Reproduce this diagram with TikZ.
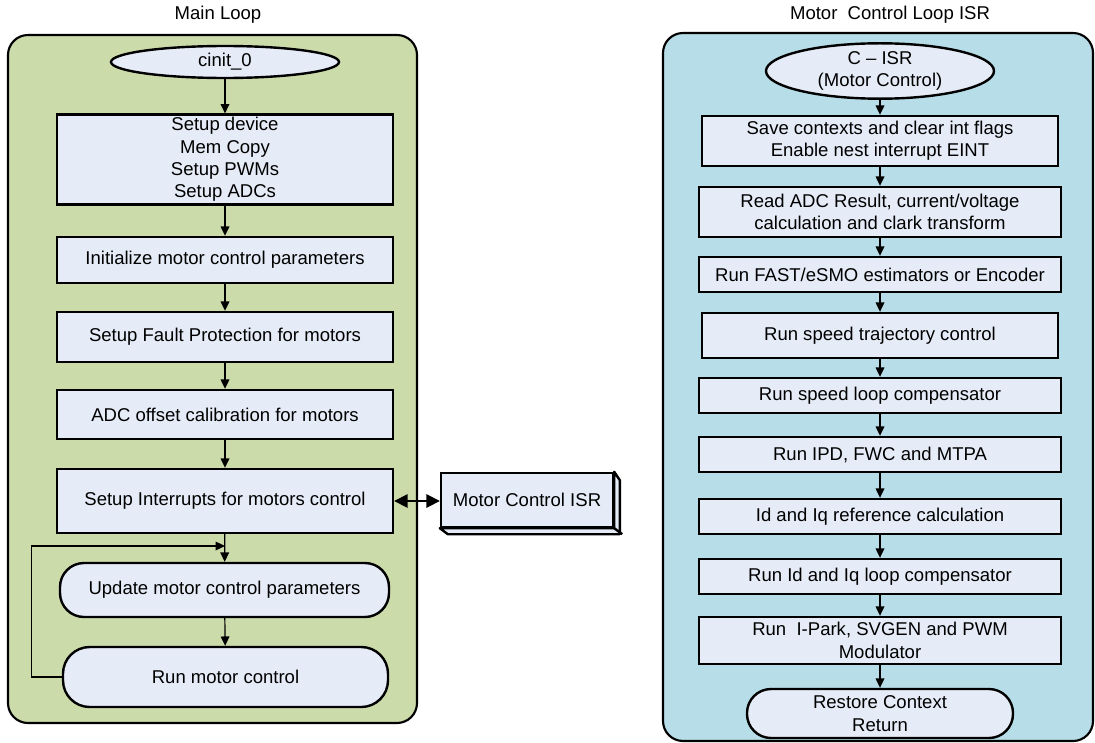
\documentclass[tikz,border=0pt]{standalone}
\usepackage{fontspec}
\setmainfont{Liberation Sans}
\usetikzlibrary{arrows.meta,shapes.geometric}
\definecolor{loopgreen}{RGB}{204,219,170}
\definecolor{isrblue}{RGB}{183,221,232}
\definecolor{stepfill}{RGB}{230,236,247}
\tikzset{
  panel/.style={draw,line width=1.6pt,rounded corners=15pt},
  stepbox/.style={draw,line width=1.8pt,fill=stepfill,align=center,inner sep=2pt},
  termbox/.style={stepbox,rounded corners=18pt},
  startnode/.style={draw,line width=1.8pt,fill=stepfill,ellipse,align=center,inner sep=0pt},
  arr/.style={-{Triangle[length=7pt,width=6.5pt]},line width=0.9pt},
}
\begin{document}
\begin{tikzpicture}[x=0.75pt,y=-0.75pt,every node/.style={font=\fontsize{13.9pt}{16.8pt}\selectfont}]
\useasboundingbox (0,0) rectangle (1095,742);
% panels and titles
\draw[panel,fill=loopgreen] (8,35) rectangle (417,723);
\draw[panel,fill=isrblue] (663,33) rectangle (1093,741);
\node (mainttl) at (218,15) {Main Loop};
\node (isrttl) at (890,15) {Motor~~Control Loop ISR};
% main loop
\node[startnode,minimum width=171pt,minimum height=24pt] (cinit) at (225,62) {cinit\_0};
\node[stepbox,minimum width=252pt,minimum height=66.75pt] (setup) at (225,159.5) {Setup device\\Mem Copy\\Setup PWMs\\Setup ADCs};
\node[stepbox,minimum width=252pt,minimum height=34.5pt] (init) at (225,260) {Initialize motor control parameters};
\node[stepbox,minimum width=252pt,minimum height=37.5pt] (fault) at (225,337) {Setup Fault Protection for motors};
\node[stepbox,minimum width=252pt,minimum height=36.75pt] (adc) at (225,414.5) {ADC offset calibration for motors};
\node[stepbox,minimum width=252pt,minimum height=48pt] (intr) at (225,501) {Setup Interrupts for motors control};
\node[termbox,minimum width=246.75pt,minimum height=40.5pt] (update) at (224.5,590) {Update motor control parameters};
\node[termbox,minimum width=243.75pt,minimum height=45pt,rounded corners=20pt] (run) at (225.5,677) {Run motor control};
\coordinate (join) at (225,546);
\draw[arr] (cinit) -- (setup);
\draw[arr] (setup) -- (init);
\draw[arr] (init) -- (fault);
\draw[arr] (fault) -- (adc);
\draw[arr] (adc) -- (intr);
\draw[arr] (intr) -- (update);
\draw[arr] (update) -- (run);
\draw[arr] (run.west) -- ++(-30,0) |- (join);
% isr block beside the loop
\node[stepbox,minimum width=129pt,minimum height=40.5pt] (isr) at (527,500) {Motor Control ISR};
\draw[line width=1.8pt,fill=stepfill,line join=round] (isr.south west) -- ++(8,6) -- ++(172,0) -- ++(0,-54) -- (isr.north east) -- (isr.south east) -- cycle;
\draw[line width=1.8pt] (isr.south east) -- ++(8,6);
\draw[{Triangle[length=10pt,width=10pt]}-{Triangle[length=10pt,width=10pt]},line width=1.3pt] (intr.east) -- (intr.east -| isr.west);
% motor control loop isr
\node[startnode,minimum width=171pt,minimum height=37.5pt] (cisr) at (880,71) {C -- ISR\\(Motor Control)};
\node[stepbox,minimum width=267pt,minimum height=37.5pt] (save) at (880,141) {Save contexts and clear int flags\\Enable nest interrupt EINT};
\node[stepbox,minimum width=271.5pt,minimum height=37.5pt] (read) at (880,212) {Read ADC Result, current/voltage\\calculation and clark transform};
\node[stepbox,minimum width=271.5pt,minimum height=26.25pt] (est) at (880,274.5) {Run FAST/eSMO estimators or Encoder};
\node[stepbox,minimum width=267pt,minimum height=33.75pt] (traj) at (880,335.5) {Run speed trajectory control};
\node[stepbox,minimum width=271.5pt,minimum height=26.25pt] (spd) at (880,395.5) {Run speed loop compensator};
\node[stepbox,minimum width=271.5pt,minimum height=26.25pt] (ipd) at (880,454.5) {Run IPD, FWC and MTPA};
\node[stepbox,minimum width=271.5pt,minimum height=26.25pt] (idref) at (880,516.5) {Id and Iq reference calculation};
\node[stepbox,minimum width=271.5pt,minimum height=26.25pt] (idloop) at (880,576.5) {Run Id and Iq loop compensator};
\node[stepbox,minimum width=271.5pt,minimum height=35.25pt] (ipark) at (880,640.5) {Run~ I-Park, SVGEN and PWM\\Modulator};
\node[termbox,minimum width=199.5pt,minimum height=36.75pt] (restore) at (880,713.5) {Restore Context\\Return};
\draw[arr] (cisr) -- (save);
\draw[arr] (save) -- (read);
\draw[arr] (read) -- (est);
\draw[arr] (est) -- (traj);
\draw[arr] (traj) -- (spd);
\draw[arr] (spd) -- (ipd);
\draw[arr] (ipd) -- (idref);
\draw[arr] (idref) -- (idloop);
\draw[arr] (idloop) -- (ipark);
\draw[arr] (ipark) -- (restore);
\end{tikzpicture}
\end{document}
